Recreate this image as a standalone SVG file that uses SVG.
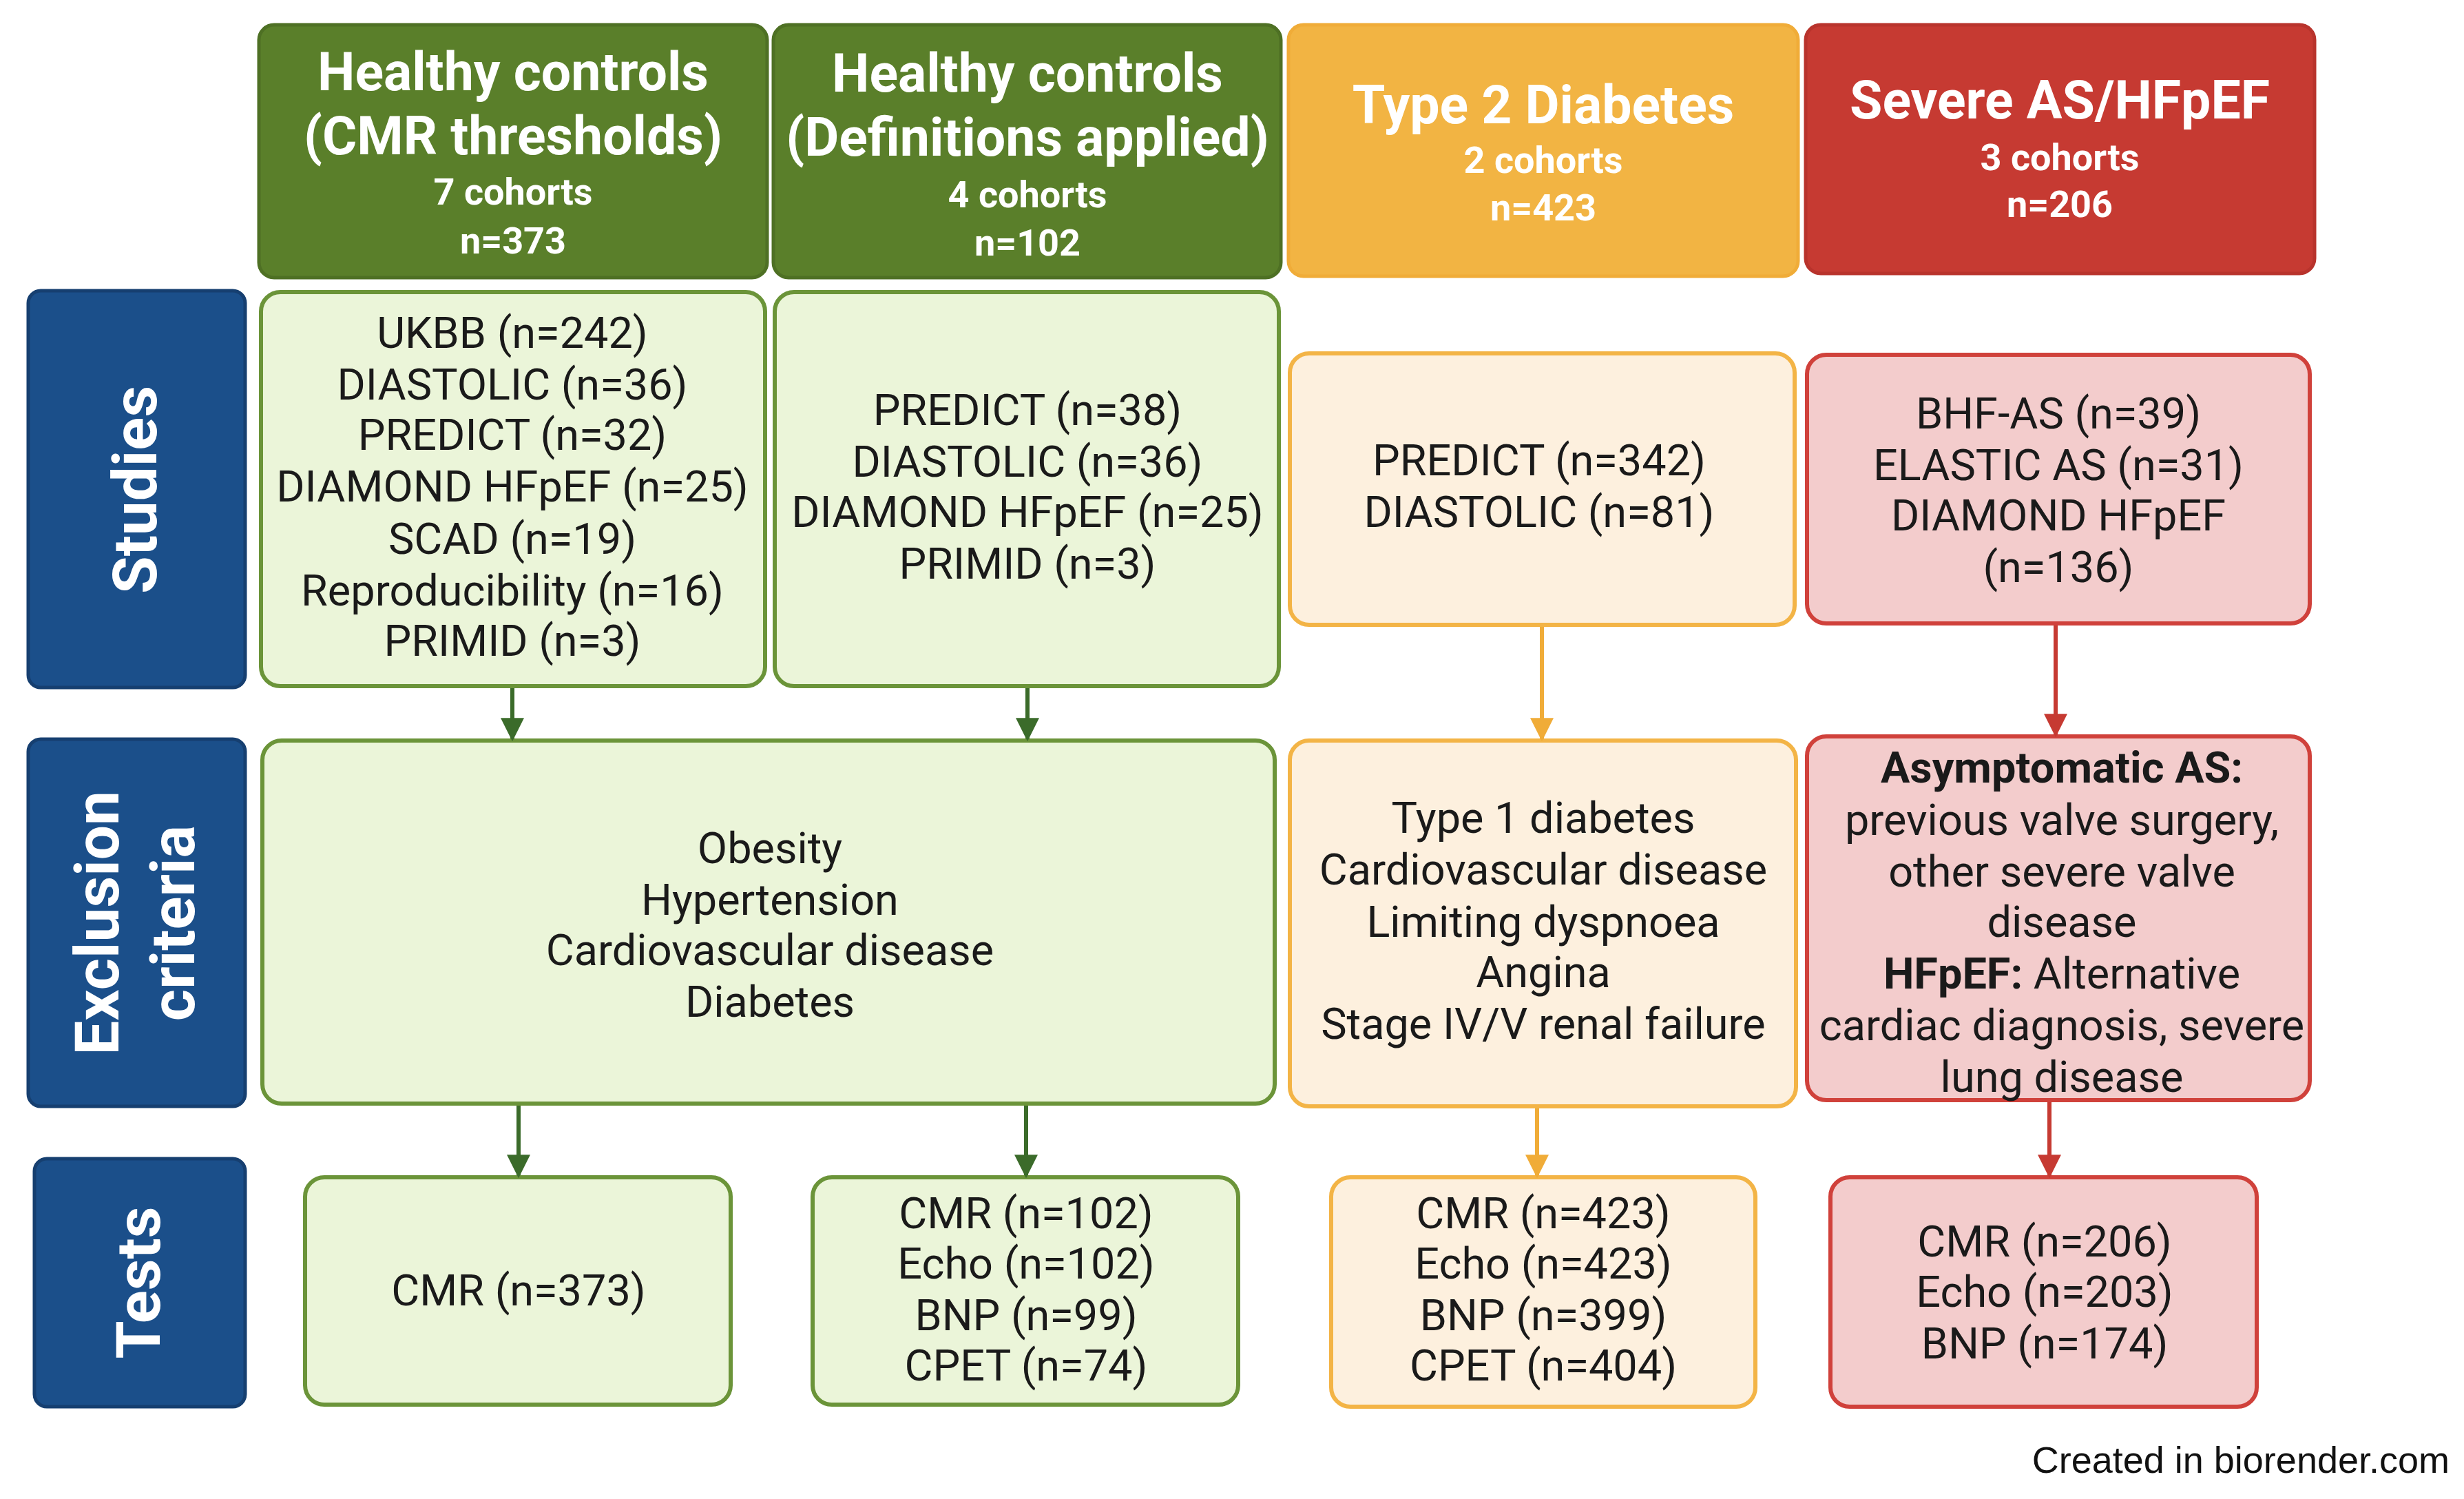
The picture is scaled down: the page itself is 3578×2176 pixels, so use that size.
<svg xmlns="http://www.w3.org/2000/svg" width="3578" height="2176" viewBox="0 0 3578 2176">
<style>
text{font-family:Roboto,"Liberation Sans",sans-serif;text-anchor:middle;dominant-baseline:central}
.h{font-weight:bold;font-size:77px;fill:#fff}
.s{font-weight:bold;font-size:54px;fill:#fff}
.b{font-size:63px;fill:#1a1a1a}
.side{font-weight:bold;font-size:89px;fill:#fff}
.gh{fill:#5a7f2a;stroke:#4e7024;stroke-width:5}
.oh{fill:#f2b443;stroke:#f0ac38;stroke-width:5}
.rh{fill:#c63a32;stroke:#b8332c;stroke-width:5}
.gb{fill:#ebf5d9;stroke:#6b9439;stroke-width:6}
.ob{fill:#fdf0de;stroke:#f3b446;stroke-width:6}
.rb{fill:#f3cccc;stroke:#d0413b;stroke-width:6}
.bl{fill:#1b4f8a;stroke:#163f70;stroke-width:5}
</style>
<defs>
<marker id="ao" viewBox="0 0 8 8" refX="7" refY="4" markerWidth="34" markerHeight="34" orient="auto" markerUnits="userSpaceOnUse"><path d="M0,0L8,4L0,8z" fill="#f0ac38"/></marker>
<marker id="ar" viewBox="0 0 8 8" refX="7" refY="4" markerWidth="34" markerHeight="34" orient="auto" markerUnits="userSpaceOnUse"><path d="M0,0L8,4L0,8z" fill="#c63a32"/></marker>
<marker id="ag2" viewBox="0 0 8 8" refX="7" refY="4" markerWidth="34" markerHeight="34" orient="auto" markerUnits="userSpaceOnUse"><path d="M0,0L8,4L0,8z" fill="#3b6b2a"/></marker>
</defs>
<rect width="3578" height="2176" fill="#fff"/>
<g id="hdr-hc1"><rect class="gh" x="376" y="36" width="738" height="367" rx="22"/>
<text class="h" x="745" y="105">Healthy controls</text><text class="h" x="745" y="198">(CMR thresholds)</text>
<text class="s" x="745" y="278">7 cohorts</text><text class="s" x="745" y="349">n=373</text></g>
<g id="hdr-hc2"><rect class="gh" x="1123" y="36" width="737" height="367" rx="22"/>
<text class="h" x="1492" y="107">Healthy controls</text><text class="h" x="1492" y="200">(Definitions applied)</text>
<text class="s" x="1492" y="282">4 cohorts</text><text class="s" x="1492" y="352">n=102</text></g>
<g id="hdr-t2d"><rect class="oh" x="1871" y="36" width="740" height="365" rx="22"/>
<text class="h" x="2241" y="153">Type 2 Diabetes</text><text class="s" x="2241" y="232">2 cohorts</text><text class="s" x="2241" y="301">n=423</text></g>
<g id="hdr-as"><rect class="rh" x="2622" y="36" width="739" height="361" rx="22"/>
<text class="h" x="2991" y="146">Severe AS/HFpEF</text><text class="s" x="2991" y="228">3 cohorts</text><text class="s" x="2991" y="296">n=206</text></g>
<g id="side-studies"><rect class="bl" x="41" y="422" width="315" height="576" rx="18"/><text class="side" transform="translate(196,711) rotate(-90)">Studies</text></g>
<g id="side-excl"><rect class="bl" x="41" y="1073" width="315" height="533" rx="18"/><text class="side" transform="translate(141,1340) rotate(-90)">Exclusion</text><text class="side" transform="translate(251,1340) rotate(-90)">criteria</text></g>
<g id="side-tests"><rect class="bl" x="50" y="1682" width="306" height="360" rx="18"/><text class="side" transform="translate(201,1862) rotate(-90)">Tests</text></g>
<g id="st-hc1"><rect class="gb" x="379" y="424" width="732" height="572" rx="28"/>
<text class="b" x="744" y="483">UKBB (n=242)</text><text class="b" x="744" y="558">DIASTOLIC (n=36)</text><text class="b" x="744" y="631">PREDICT (n=32)</text><text class="b" x="744" y="706">DIAMOND HFpEF (n=25)</text><text class="b" x="744" y="782">SCAD (n=19)</text><text class="b" x="744" y="857">Reproducibility (n=16)</text><text class="b" x="744" y="930">PRIMID (n=3)</text></g>
<g id="st-hc2"><rect class="gb" x="1125" y="424" width="732" height="572" rx="28"/>
<text class="b" x="1492" y="595">PREDICT (n=38)</text><text class="b" x="1492" y="670">DIASTOLIC (n=36)</text><text class="b" x="1492" y="743">DIAMOND HFpEF (n=25)</text><text class="b" x="1492" y="818">PRIMID (n=3)</text></g>
<g id="st-t2d"><rect class="ob" x="1873" y="513" width="733" height="394" rx="28"/>
<text class="b" x="2235" y="668">PREDICT (n=342)</text><text class="b" x="2235" y="743">DIASTOLIC (n=81)</text></g>
<g id="st-as"><rect class="rb" x="2624" y="515" width="730" height="390" rx="28"/>
<text class="b" x="2989" y="600">BHF-AS (n=39)</text><text class="b" x="2989" y="675">ELASTIC AS (n=31)</text><text class="b" x="2989" y="748">DIAMOND HFpEF</text><text class="b" x="2989" y="823">(n=136)</text></g>
<g id="ex-hc"><rect class="gb" x="381" y="1075" width="1470" height="527" rx="28"/>
<text class="b" x="1118" y="1231">Obesity</text><text class="b" x="1118" y="1306">Hypertension</text><text class="b" x="1118" y="1379">Cardiovascular disease</text><text class="b" x="1118" y="1454">Diabetes</text></g>
<g id="ex-t2d"><rect class="ob" x="1873" y="1075" width="735" height="531" rx="28"/>
<text class="b" x="2241" y="1187">Type 1 diabetes</text><text class="b" x="2241" y="1262">Cardiovascular disease</text><text class="b" x="2241" y="1338">Limiting dyspnoea</text><text class="b" x="2241" y="1411">Angina</text><text class="b" x="2241" y="1486">Stage IV/V renal failure</text></g>
<g id="ex-as"><rect class="rb" x="2624" y="1069" width="730" height="528" rx="28"/>
<text class="b" x="2994" y="1114" font-weight="bold">Asymptomatic AS:</text><text class="b" x="2994" y="1190">previous valve surgery,</text><text class="b" x="2994" y="1265">other severe valve</text><text class="b" x="2994" y="1338">disease</text><text class="b" x="2994" y="1413"><tspan font-weight="bold">HFpEF:</tspan> Alternative</text><text class="b" x="2994" y="1488">cardiac diagnosis, severe</text><text class="b" x="2994" y="1563">lung disease</text></g>
<g id="te-hc1"><rect class="gb" x="443" y="1709" width="618" height="330" rx="28"/><text class="b" x="753" y="1873">CMR (n=373)</text></g>
<g id="te-hc2"><rect class="gb" x="1180" y="1709" width="618" height="330" rx="28"/>
<text class="b" x="1490" y="1761">CMR (n=102)</text><text class="b" x="1490" y="1834">Echo (n=102)</text><text class="b" x="1490" y="1909">BNP (n=99)</text><text class="b" x="1490" y="1982">CPET (n=74)</text></g>
<g id="te-t2d"><rect class="ob" x="1933" y="1709" width="616" height="333" rx="28"/>
<text class="b" x="2241" y="1761">CMR (n=423)</text><text class="b" x="2241" y="1834">Echo (n=423)</text><text class="b" x="2241" y="1909">BNP (n=399)</text><text class="b" x="2241" y="1982">CPET (n=404)</text></g>
<g id="te-as"><rect class="rb" x="2658" y="1709" width="619" height="333" rx="28"/>
<text class="b" x="2969" y="1802">CMR (n=206)</text><text class="b" x="2969" y="1875">Echo (n=203)</text><text class="b" x="2969" y="1950">BNP (n=174)</text></g>
<g id="connectors" stroke-width="6" fill="none">
<line x1="744" y1="999" x2="744" y2="1072" stroke="#3b6b2a" marker-end="url(#ag2)"/>
<line x1="1492" y1="999" x2="1492" y2="1072" stroke="#3b6b2a" marker-end="url(#ag2)"/>
<line x1="2239" y1="910" x2="2239" y2="1072" stroke="#f0ac38" marker-end="url(#ao)"/>
<line x1="2985" y1="908" x2="2985" y2="1066" stroke="#c63a32" marker-end="url(#ar)"/>
<line x1="753" y1="1605" x2="753" y2="1706" stroke="#3b6b2a" marker-end="url(#ag2)"/>
<line x1="1490" y1="1605" x2="1490" y2="1706" stroke="#3b6b2a" marker-end="url(#ag2)"/>
<line x1="2232" y1="1609" x2="2232" y2="1706" stroke="#f0ac38" marker-end="url(#ao)"/>
<line x1="2976" y1="1600" x2="2976" y2="1706" stroke="#c63a32" marker-end="url(#ar)"/>
</g>
<text x="3557" y="2119" style="text-anchor:end;font-family:'Liberation Sans',sans-serif;font-size:54px" fill="#111">Created in biorender.com</text>
</svg>
